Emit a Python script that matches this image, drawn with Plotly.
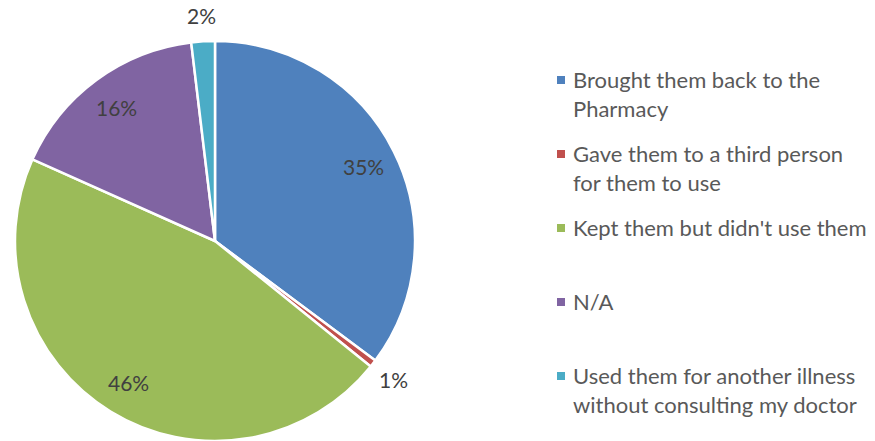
import math
import plotly.graph_objects as go

# Survey answers: what was done with leftover medicines
categories = [
    "Brought them back to the Pharmacy",
    "Gave them to a third person for them to use",
    "Kept them but didn't use them",
    "N/A",
    "Used them for another illness without consulting my doctor",
]
legend_text = [
    "Brought them back to the<br>Pharmacy",
    "Gave them to a third person<br>for them to use",
    "Kept them but didn't use them",
    "N/A",
    "Used them for another illness<br>without consulting my doctor",
]
shares = [35.2, 0.6, 45.9, 16.4, 1.9]
colors = ["#4F81BD", "#C0504D", "#9BBB59", "#8064A2", "#4BACC6"]
label_outside = [False, True, False, False, True]

W, H = 875, 441
FONT = "Lato"

# pie placement in pixels (centre and radius)
cx, cy, r = 215, 241, 200

fig = go.Figure()
fig.add_trace(go.Pie(
    labels=categories,
    values=shares,
    sort=False,
    direction="clockwise",
    rotation=0,
    marker=dict(colors=colors, line=dict(color="white", width=2.5)),
    textinfo="none",
    domain=dict(x=[(cx - r) / W, (cx + r) / W], y=[(H - cy - r) / H, (H - cy + r) / H]),
    showlegend=False,
    hoverinfo="label+percent",
))

annotations = []
shapes = []

# percentage labels placed along each slice's bisector
total = sum(shares)
acc = 0.0
for val, outside in zip(shares, label_outside):
    mid = (acc + val / 2) / total
    acc += val
    ang = 2 * math.pi * mid
    dist = r * (1.13 if outside else 0.83)
    px = cx + dist * math.sin(ang)
    py = cy - dist * math.cos(ang)
    annotations.append(dict(
        xref="paper", yref="paper",
        x=px / W, y=1 - py / H,
        xanchor="center", yanchor="middle",
        text=f"{round(100 * val / total)}%", showarrow=False,
        font=dict(family=FONT, size=21, color="#404040"),
    ))

# hand-built legend with evenly spaced entries
legend_x_px = 557
first_y_px = 80
step_px = 74
sq = 8
for i, (txt, col) in enumerate(zip(legend_text, colors)):
    yc = first_y_px + i * step_px
    shapes.append(dict(
        type="rect", xref="paper", yref="paper",
        x0=legend_x_px / W, x1=(legend_x_px + sq) / W,
        y0=1 - (yc + sq / 2) / H, y1=1 - (yc - sq / 2) / H,
        fillcolor=col, line=dict(width=0),
    ))
    annotations.append(dict(
        xref="paper", yref="paper",
        x=(legend_x_px + sq + 6) / W, y=1 - (yc - 16) / H,
        xanchor="left", yanchor="top", align="left",
        text=txt, showarrow=False,
        font=dict(family=FONT, size=22, color="#595959"),
    ))

fig.update_layout(
    width=W, height=H,
    margin=dict(l=0, r=0, t=0, b=0),
    paper_bgcolor="white",
    plot_bgcolor="white",
    shapes=shapes,
    annotations=annotations,
)

fig.write_html("out.html")
